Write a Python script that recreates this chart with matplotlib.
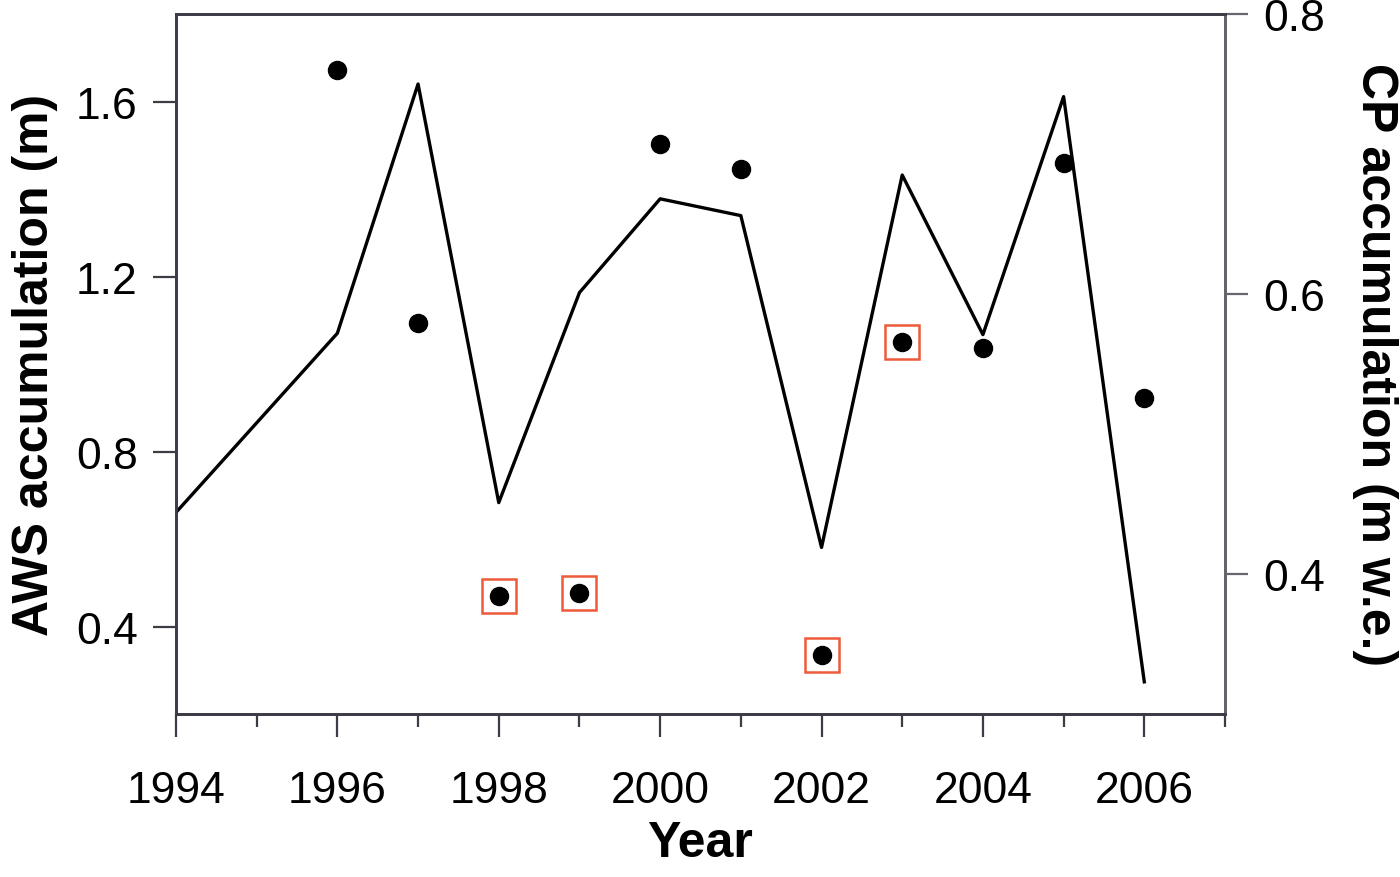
import matplotlib
matplotlib.use("Agg")
import matplotlib.pyplot as plt
from matplotlib.ticker import MultipleLocator

# AWS accumulation (m), left axis, dots
aws_years = [1996, 1997, 1998, 1999, 2000, 2001, 2002, 2003, 2004, 2005, 2006]
aws_accum = [1.673, 1.093, 0.470, 0.477, 1.504, 1.445, 0.336, 1.050, 1.036, 1.459, 0.922]

# years whose AWS point is boxed in red
flag_years = [1998, 1999, 2002, 2003]

# CP accumulation (m w.e.), right axis, line
cp_years = [1994, 1996, 1997, 1998, 1999, 2000, 2001, 2002, 2003, 2004, 2005, 2006]
cp_accum = [0.444, 0.572, 0.750, 0.451, 0.601, 0.668, 0.656, 0.419, 0.685, 0.571, 0.741, 0.323]

x_ticks = [1994, 1996, 1998, 2000, 2002, 2004, 2006]
left_ticks = [0.4, 0.8, 1.2, 1.6]
right_ticks = [0.4, 0.6, 0.8]

plt.rcParams['font.family'] = ['Liberation Sans', 'DejaVu Sans']
spine_col = '#3c3c46'

fig = plt.figure(figsize=(14, 8.78), dpi=100, facecolor='w')
ax = fig.add_axes([0.1257, 0.1856, 0.7493, 0.7973])
ax2 = ax.twinx()

flag_idx = [aws_years.index(y) for y in flag_years]
ax.plot([aws_years[i] for i in flag_idx], [aws_accum[i] for i in flag_idx], 's',
        markersize=24, markerfacecolor='none', markeredgecolor='#ee5a3a',
        markeredgewidth=1.8, zorder=3)
ax.plot(aws_years, aws_accum, 'o', color='black', markersize=13, zorder=4)

ax2.plot(cp_years, cp_accum, '-', color='black', linewidth=2.4)

ax.set_xlim(1994, 2007)
ax.set_ylim(0.2, 1.8)
ax2.set_ylim(0.3, 0.8)

ax.set_xticks(x_ticks)
ax.xaxis.set_minor_locator(MultipleLocator(1))
ax.set_yticks(left_ticks)
ax.set_yticklabels(['%.1f' % v for v in left_ticks])
ax2.set_yticks(right_ticks)
ax2.set_yticklabels(['%.1f' % v for v in right_ticks])

for a in (ax, ax2):
    for s in a.spines.values():
        s.set_linewidth(2.0)
        s.set_color(spine_col)
ax2.spines['right'].set_color('#66666e')

ax.tick_params(axis='x', which='major', direction='out', length=16.5, width=1.6,
               color=spine_col, labelsize=32, pad=24)
ax.tick_params(axis='x', which='minor', direction='out', length=9.5, width=1.6,
               color=spine_col)
ax.tick_params(axis='y', direction='out', length=16.5, width=1.6,
               color=spine_col, labelsize=32, pad=11)
ax2.tick_params(axis='y', direction='out', length=16.5, width=1.6,
                color='#66666e', labelsize=32, pad=11)

ax.set_xlabel('Year', fontsize=36, fontweight='bold')
ax.xaxis.set_label_coords(0.5, -0.152)
ax.set_ylabel('AWS accumulation (m)', fontsize=36, fontweight='bold')
ax.yaxis.set_label_coords(-0.112, 0.5)
ax2.set_ylabel('CP accumulation (m w.e.)', fontsize=36, fontweight='bold',
               rotation=270, va='bottom')
ax2.yaxis.set_label_coords(1.121, 0.5)

fig.savefig('out.png', dpi=100)
